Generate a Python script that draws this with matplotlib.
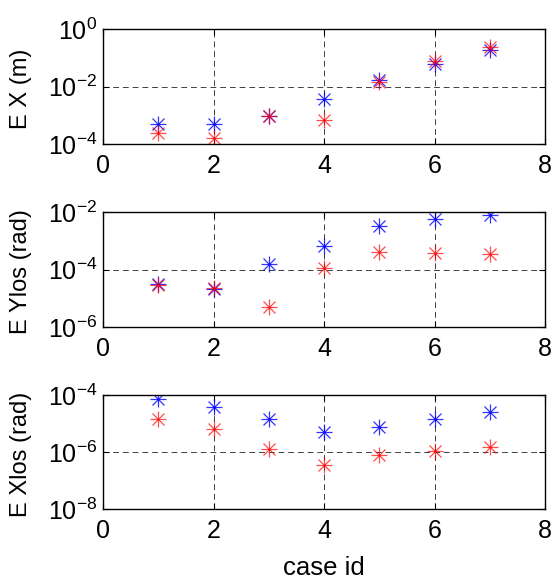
import matplotlib
matplotlib.use("Agg")
import matplotlib.pyplot as plt
import numpy as np
from matplotlib.ticker import FixedLocator, NullLocator

plt.rcParams['font.family'] = ['Liberation Sans', 'DejaVu Sans']
plt.rcParams['mathtext.fontset'] = 'custom'
plt.rcParams['mathtext.rm'] = 'Liberation Sans'
plt.rcParams['mathtext.default'] = 'regular'

case_id = [1, 2, 3, 4, 5, 6, 7]

# log10 values
ex_blue_log = [-3.30, -3.30, -3.03, -2.45, -1.77, -1.22, -0.73]
ex_red_log = [-3.63, -3.78, -3.03, -3.17, -1.83, -1.10, -0.62]
eylos_blue_log = [-4.50, -4.68, -3.81, -3.17, -2.47, -2.25, -2.10]
eylos_red_log = [-4.53, -4.65, -5.31, -3.93, -3.38, -3.43, -3.46]
exlos_blue_log = [-4.14, -4.43, -4.84, -5.28, -5.13, -4.84, -4.58]
exlos_red_log = [-4.84, -5.20, -5.90, -6.46, -6.11, -5.97, -5.81]

panels = [
    ("E X (m)", ex_blue_log, ex_red_log, (1e-4, 1e0), [1e-4, 1e-2, 1e0],
     ["$10^{-4}$", "$10^{-2}$", "$10^{0}$"]),
    ("E Ylos (rad)", eylos_blue_log, eylos_red_log, (1e-6, 1e-2), [1e-6, 1e-4, 1e-2],
     ["$10^{-6}$", "$10^{-4}$", "$10^{-2}$"]),
    ("E Xlos (rad)", exlos_blue_log, exlos_red_log, (1e-8, 1e-4), [1e-8, 1e-6, 1e-4],
     ["$10^{-8}$", "$10^{-6}$", "$10^{-4}$"]),
]
xticks = [0, 2, 4, 6, 8]

W, H = 555, 581
fig = plt.figure(figsize=(W / 100, H / 100), dpi=100)
left, right = 103 / W, 545 / W
tops = [29, 212, 395]
bots = [144, 327.3, 509.3]


def star(ax, x, ylog, color, alpha):
    y = 10 ** np.array(ylog)
    ax.plot(x, y, linestyle='none', marker='+', markersize=12,
            markeredgewidth=0.9, color=color, alpha=alpha)
    ax.plot(x, y, linestyle='none', marker='x', markersize=8,
            markeredgewidth=0.9, color=color, alpha=alpha)


for i, (lab, blog, rlog, ylim, yt, ytl) in enumerate(panels):
    ax = fig.add_axes([left, 1 - bots[i] / H, right - left, (bots[i] - tops[i]) / H])
    ax.set_yscale('log')
    ax.set_xlim(0, 8)
    ax.set_ylim(*ylim)
    star(ax, case_id, blog, (0, 0, 1), 0.8)
    star(ax, case_id, rlog, (1, 0, 0), 0.7)
    ax.xaxis.set_major_locator(FixedLocator(xticks))
    ax.set_xticklabels([str(t) for t in xticks])
    ax.yaxis.set_major_locator(FixedLocator(yt))
    ax.set_yticklabels(ytl)
    ax.yaxis.set_minor_locator(NullLocator())
    ax.grid(True, which='major', linestyle=(0, (6, 4)), color='black', linewidth=0.7, alpha=0.75)
    ax.tick_params(direction='in', top=True, right=True, labelsize=18, length=4)
    ax.tick_params(axis='x', pad=7)
    ax.tick_params(axis='y', pad=4)
    for s in ax.spines.values():
        s.set_linewidth(1.0)
    ax.set_ylabel(lab, fontsize=17)
    ax.yaxis.set_label_coords(-0.16, 0.48)
    if i == 2:
        ax.set_xlabel("case id", fontsize=18.5)
        ax.xaxis.set_label_coords(0.5, -0.41)

fig.savefig("out.png", dpi=100)
